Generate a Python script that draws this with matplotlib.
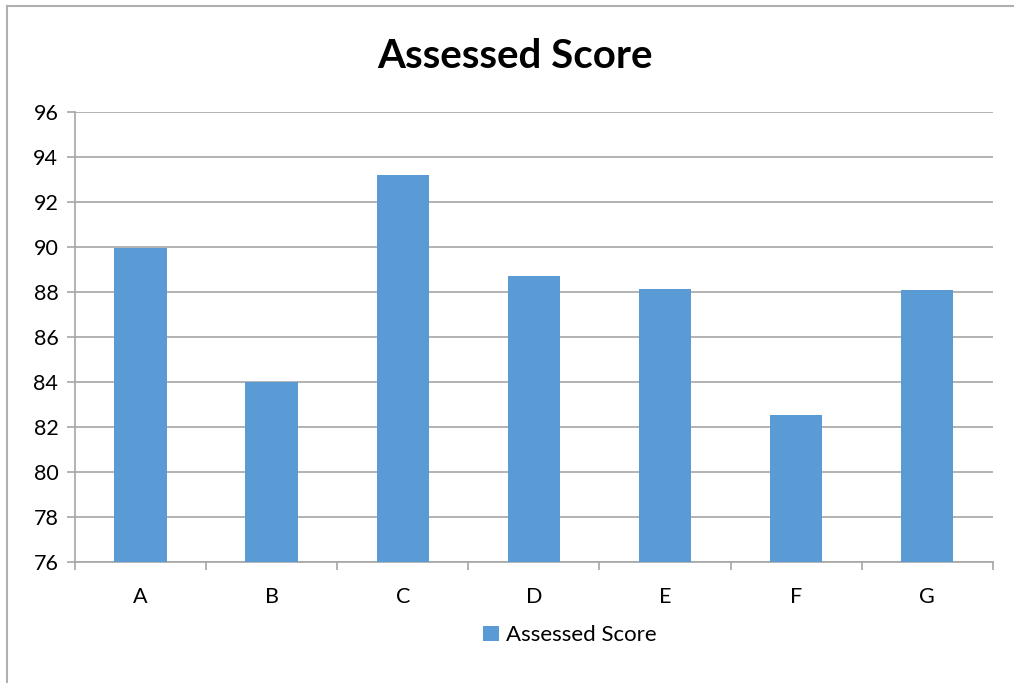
import matplotlib.pyplot as plt
from matplotlib.lines import Line2D
from matplotlib.patches import Patch

categories = ['A', 'B', 'C', 'D', 'E', 'F', 'G']
scores = [89.95, 84.0, 93.2, 88.72, 88.12, 82.53, 88.07]
yticks = [76, 78, 80, 82, 84, 86, 88, 90, 92, 94, 96]

plt.rcParams['font.family'] = ['Lato', 'DejaVu Sans']

bar_color = '#5B9BD5'
grid_color = '#A6A6A6'

fig = plt.figure(figsize=(10.14, 6.83), dpi=100)
ax = fig.add_axes([0.074, 0.177, 0.905, 0.659])

x = list(range(len(categories)))
ax.bar(x, [s - yticks[0] for s in scores], bottom=yticks[0], width=0.4,
       color=bar_color, zorder=3)

ax.set_xlim(-0.5, len(categories) - 0.5)
ax.set_ylim(yticks[0], yticks[-1])
ax.set_yticks(yticks)
ax.set_yticklabels([str(t) for t in yticks], fontsize=15.5)
ax.set_xticks(x)
ax.set_xticklabels(categories, fontsize=15.5)
ax.set_xticks([i - 0.5 for i in range(len(categories) + 1)], minor=True)

ax.tick_params(axis='x', which='major', length=0, pad=18)
ax.tick_params(axis='x', which='minor', length=6, color=grid_color, width=1.2)
ax.tick_params(axis='y', length=6, color=grid_color, width=1.2, pad=6)

ax.grid(axis='y', color=grid_color, linewidth=1.2, zorder=0)
for side in ['top', 'right']:
    ax.spines[side].set_visible(False)
for side in ['left', 'bottom']:
    ax.spines[side].set_color(grid_color)
    ax.spines[side].set_linewidth(1.2)

fig.text(0.508, 0.918, 'Assessed Score', ha='center', va='center',
         fontsize=29, fontweight='bold')

handle = Patch(facecolor=bar_color, edgecolor='none')
fig.legend([handle], ['Assessed Score'], loc='center',
           bbox_to_anchor=(0.562, 0.07), frameon=False, fontsize=16,
           handlelength=0.7, handleheight=0.7, handletextpad=0.3)

# outer chart border (top and left edges visible)
fig.lines.append(Line2D([0.007, 1.0], [0.991, 0.991], transform=fig.transFigure,
                        color='#B0B0B0', linewidth=1.5))
fig.lines.append(Line2D([0.007, 0.007], [0.0, 0.991], transform=fig.transFigure,
                        color='#B0B0B0', linewidth=1.5))

fig.savefig('out.png', dpi=100)
